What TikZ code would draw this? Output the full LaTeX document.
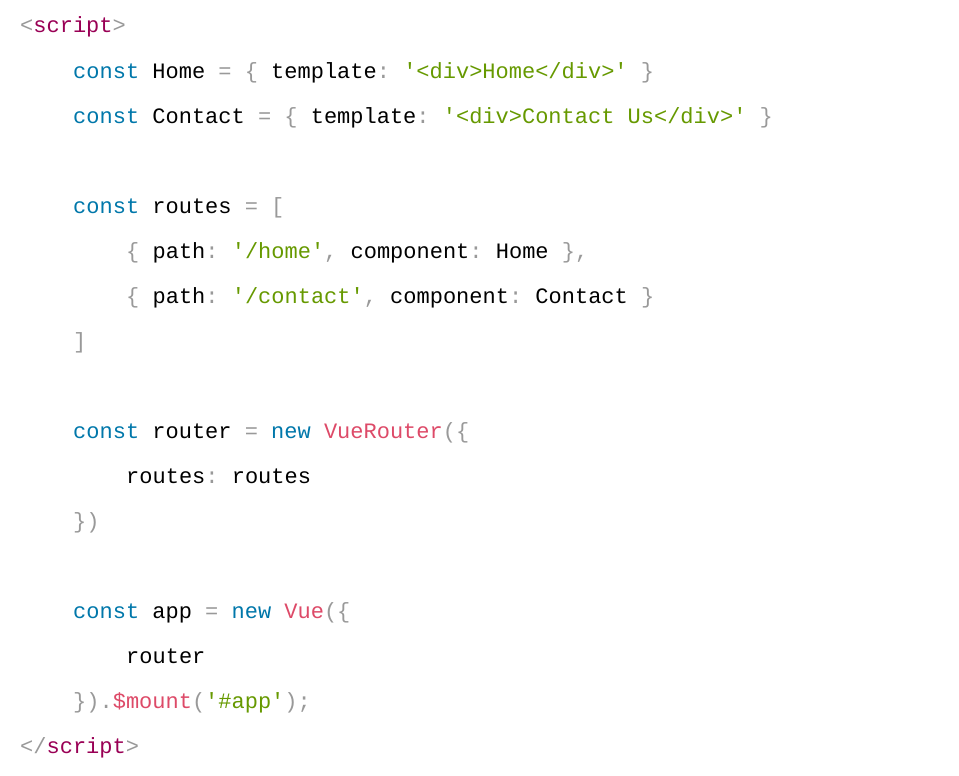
\documentclass[tikz,border=0pt]{standalone}
\usepackage{fontspec}
\setmonofont{Liberation Mono}
\usetikzlibrary{positioning}
\definecolor{kw}{RGB}{0,119,170}
\definecolor{str}{RGB}{102,153,0}
\definecolor{fn}{RGB}{221,74,104}
\definecolor{pun}{RGB}{153,153,153}
\definecolor{tagc}{RGB}{153,0,85}
\newcommand{\K}[1]{\textcolor{kw}{#1}}
\newcommand{\St}[1]{\textcolor{str}{#1}}
\newcommand{\F}[1]{\textcolor{fn}{#1}}
\newcommand{\Pn}[1]{\textcolor{pun}{#1}}
\newcommand{\Tg}[1]{\textcolor{tagc}{#1}}
\tikzset{code/.style={anchor=base west, inner sep=0pt, font=\fontsize{22pt}{26pt}\ttfamily}}

\begin{document}
\begin{tikzpicture}[x=1pt, y=1pt]
    \useasboundingbox (0,0) rectangle (959,-776);

    % Lines of the listing
    \node [code] (l1) at (20,-33) {\Pn{<}\Tg{script}\Pn{>}};
    \node [code] (l2) at (73,-78) {\K{const} Home \Pn{=} \Pn{\{} template\Pn{:} \St{'<div>Home</div>'} \Pn{\}}};
    \node [code] (l3) at (73,-123) {\K{const} Contact \Pn{=} \Pn{\{} template\Pn{:} \St{'<div>Contact Us</div>'} \Pn{\}}};
    \node [code] (l4) at (73,-213) {\K{const} routes \Pn{=} \Pn{[}};
    \node [code] (l5) at (126,-258) {\Pn{\{} path\Pn{:} \St{'/home'}\Pn{,} component\Pn{:} Home \Pn{\},}};
    \node [code] (l6) at (126,-303) {\Pn{\{} path\Pn{:} \St{'/contact'}\Pn{,} component\Pn{:} Contact \Pn{\}}};
    \node [code] (l7) at (73,-348) {\Pn{]}};
    \node [code] (l8) at (73,-438) {\K{const} router \Pn{=} \K{new} \F{VueRouter}\Pn{(\{}};
    \node [code] (l9) at (126,-483) {routes\Pn{:} routes};
    \node [code] (l10) at (73,-528) {\Pn{\})}};
    \node [code] (l11) at (73,-618) {\K{const} app \Pn{=} \K{new} \F{Vue}\Pn{(\{}};
    \node [code] (l12) at (126,-663) {router};
    \node [code] (l13) at (73,-708) {\Pn{\}).}\F{\$mount}\Pn{(}\St{'\#app'}\Pn{);}};
    \node [code] (l14) at (20,-753) {\Pn{</}\Tg{script}\Pn{>}};
\end{tikzpicture}
\end{document}
